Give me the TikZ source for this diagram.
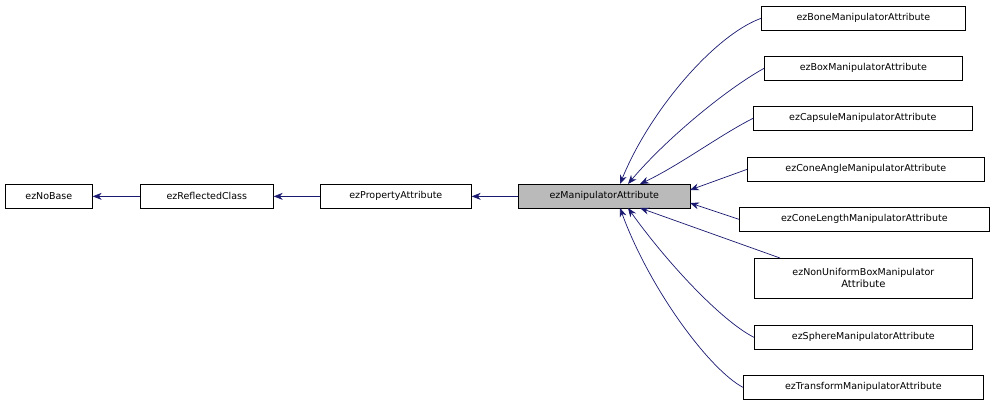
\documentclass[tikz,border=0pt]{standalone}
\usepackage{fontspec}
\setmainfont{DejaVu Sans}
\usetikzlibrary{arrows.meta}
\begin{document}
\begin{tikzpicture}[x=1pt,y=-1pt,
  box/.style={draw,line width=0.7pt,inner sep=0pt,anchor=north west,align=center,font=\fontsize{9.5}{11}\selectfont},
  edge/.style={draw={rgb,255:red,25;green,25;blue,112},line width=0.7pt,{Stealth[length=9pt,width=7pt]}-}]
\useasboundingbox (0,0) rectangle (993,408);
\newcommand{\bx}[6]{\node[box,minimum width=#4-#2,minimum height=#5-#3,#6] (#1) at (#2,#3) {};}
\bx{nb}{5}{184}{92}{208}{}
\node at (nb.center) {\fontsize{9.5}{11}\selectfont ezNoBase};
\bx{rc}{140}{184}{273}{208}{}
\node at (rc.center) {\fontsize{9.5}{11}\selectfont ezReflectedClass};
\bx{pa}{320}{184}{471}{208}{}
\node at (pa.center) {\fontsize{9.5}{11}\selectfont ezPropertyAttribute};
\bx{ma}{518}{184}{690}{208}{fill=black!27}
\node at (ma.center) {\fontsize{9.5}{11}\selectfont ezManipulatorAttribute};
\bx{c1}{761}{6}{965}{30}{}
\node at (c1.center) {\fontsize{9.5}{11}\selectfont ezBoneManipulatorAttribute};
\bx{c2}{764}{56}{962}{80}{}
\node at (c2.center) {\fontsize{9.5}{11}\selectfont ezBoxManipulatorAttribute};
\bx{c3}{753}{106}{972}{130}{}
\node at (c3.center) {\fontsize{9.5}{11}\selectfont ezCapsuleManipulatorAttribute};
\bx{c4}{747}{157}{984}{181}{}
\node at (c4.center) {\fontsize{9.5}{11}\selectfont ezConeAngleManipulatorAttribute};
\bx{c5}{739}{207}{989}{231}{}
\node at (c5.center) {\fontsize{9.5}{11}\selectfont ezConeLengthManipulatorAttribute};
\bx{c6}{754}{258}{972}{298}{}
\node[align=center] at (c6.center) {\fontsize{9.5}{13.5}\selectfont ezNonUniformBoxManipulator\\Attribute};
\bx{c7}{754}{325}{972}{349}{}
\node at (c7.center) {\fontsize{9.5}{11}\selectfont ezSphereManipulatorAttribute};
\bx{c8}{743}{375}{983}{399}{}
\node at (c8.center) {\fontsize{9.5}{11}\selectfont ezTransformManipulatorAttribute};
\path[edge] (nb.east) -- (rc.west);
\path[edge] (rc.east) -- (pa.west);
\path[edge] (pa.east) -- (ma.west);
\coordinate (t1) at (620,184); \coordinate (t2) at (628,184); \coordinate (t3) at (640,184);
\coordinate (t4) at (690,190); \coordinate (t5) at (690,203);
\coordinate (b6) at (640,208); \coordinate (b7) at (628,208); \coordinate (b8) at (620,208);
\path[edge] (t1) .. controls (650,110) and (715,35) .. (c1.west);
\path[edge] (t2) .. controls (665,140) and (725,90) .. (c2.west);
\path[edge] (t3) .. controls (680,165) and (720,135) .. (c3.west);
\path[edge] (t4) -- (c4.west);
\path[edge] (t5) -- (c5.west);
\path[edge] (b6) -- (780,258);
\path[edge] (b7) .. controls (665,260) and (720,320) .. (c7.west);
\path[edge] (b8) .. controls (650,290) and (710,370) .. (c8.west);
\end{tikzpicture}
\end{document}
